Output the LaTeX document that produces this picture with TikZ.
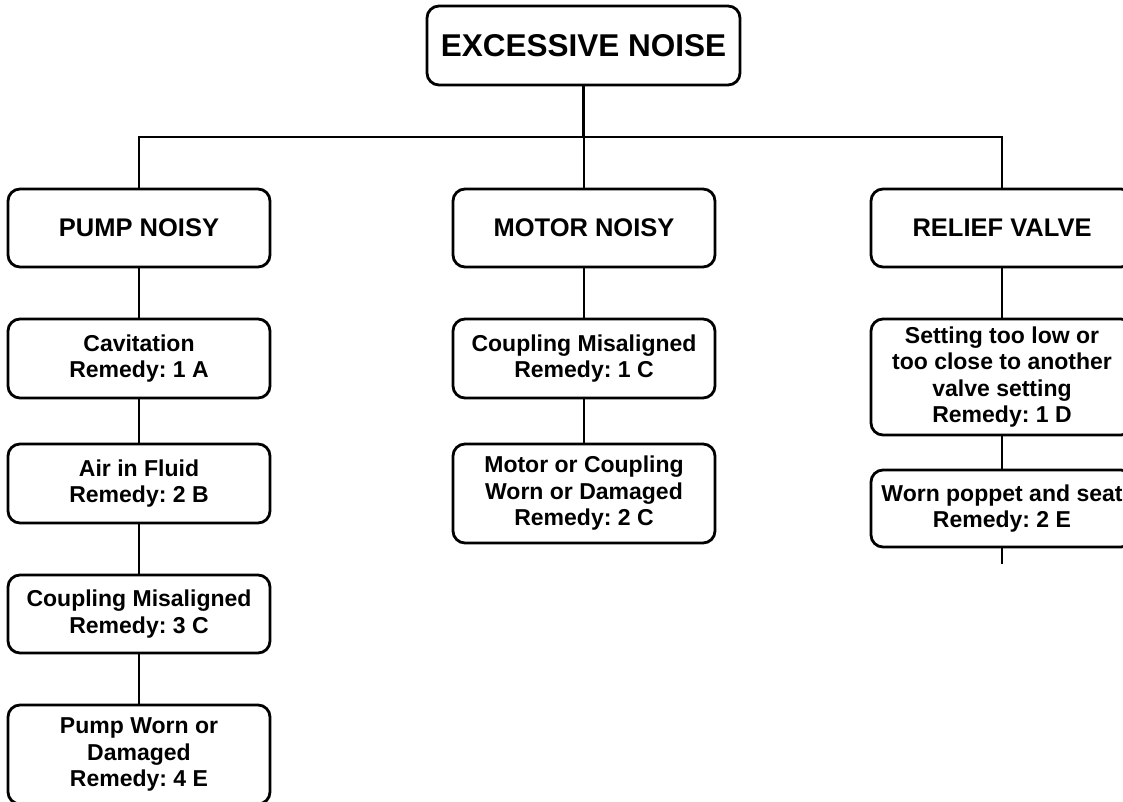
\documentclass[tikz,border=0pt]{standalone}
\usepackage{fontspec}
\setmainfont{Liberation Sans}
\frenchspacing
\begin{document}
\begin{tikzpicture}[x=1pt,y=-1pt,
  box/.style={draw=black, line width=2.8pt, rounded corners=12pt, align=center,
    inner sep=0pt, minimum width=262pt, font=\fontsize{23}{26.5}\selectfont\bfseries},
  headbox/.style={box, minimum height=78pt, font=\fontsize{25.5}{30}\selectfont\bfseries},
  link/.style={line width=2.6pt}]
\useasboundingbox (0,0) rectangle (1123,802);
\node[box, minimum width=313pt, minimum height=79pt, font=\fontsize{31.5}{36}\selectfont\bfseries] (top) at (583.5,45.5) {EXCESSIVE NOISE};
\node[headbox] (pump) at (139,228) {PUMP NOISY};
\node[headbox] (motor) at (584,228) {MOTOR NOISY};
\node[headbox] (relief) at (1002,228) {RELIEF VALVE};
\node[box, minimum height=79pt] (cav) at (139,358.5) {Cavitation\\Remedy: 1 A};
\node[box, minimum height=79pt] (air) at (139,483.5) {Air in Fluid\\Remedy: 2 B};
\node[box, minimum height=78pt] (coup3) at (139,614) {Coupling Misaligned\\Remedy: 3 C};
\node[box, minimum height=99pt] (pworn) at (139,754.5) {Pump Worn or\\Damaged\\Remedy: 4 E};
\node[box, minimum height=79pt] (mcoup) at (584,358.5) {Coupling Misaligned\\Remedy: 1 C};
\node[box, minimum height=99pt] (mworn) at (584,493.5) {Motor or Coupling\\Worn or Damaged\\Remedy: 2 C};
\node[box, minimum height=116pt] (set) at (1002,377) {Setting too low or\\too close to another\\valve setting\\Remedy: 1 D};
\node[box, minimum height=77pt] (poppet) at (1002,508.5) {Worn poppet and seat\\Remedy: 2 E};
\coordinate (bus) at (583.5,137);
\coordinate (stub) at (1002,564);
\draw[link] (top.south) -- (bus);
\draw[link] (pump.north) -- (pump.north |- bus) -- (relief.north |- bus) -- (relief.north);
\draw[link] (motor.north) -- (motor.north |- bus);
\draw[link] (pump) -- (cav);
\draw[link] (cav) -- (air);
\draw[link] (air) -- (coup3);
\draw[link] (coup3) -- (pworn);
\draw[link] (motor) -- (mcoup);
\draw[link] (mcoup) -- (mworn);
\draw[link] (relief) -- (set);
\draw[link] (set) -- (poppet);
\draw[link] (poppet) -- (stub);
\end{tikzpicture}
\end{document}
